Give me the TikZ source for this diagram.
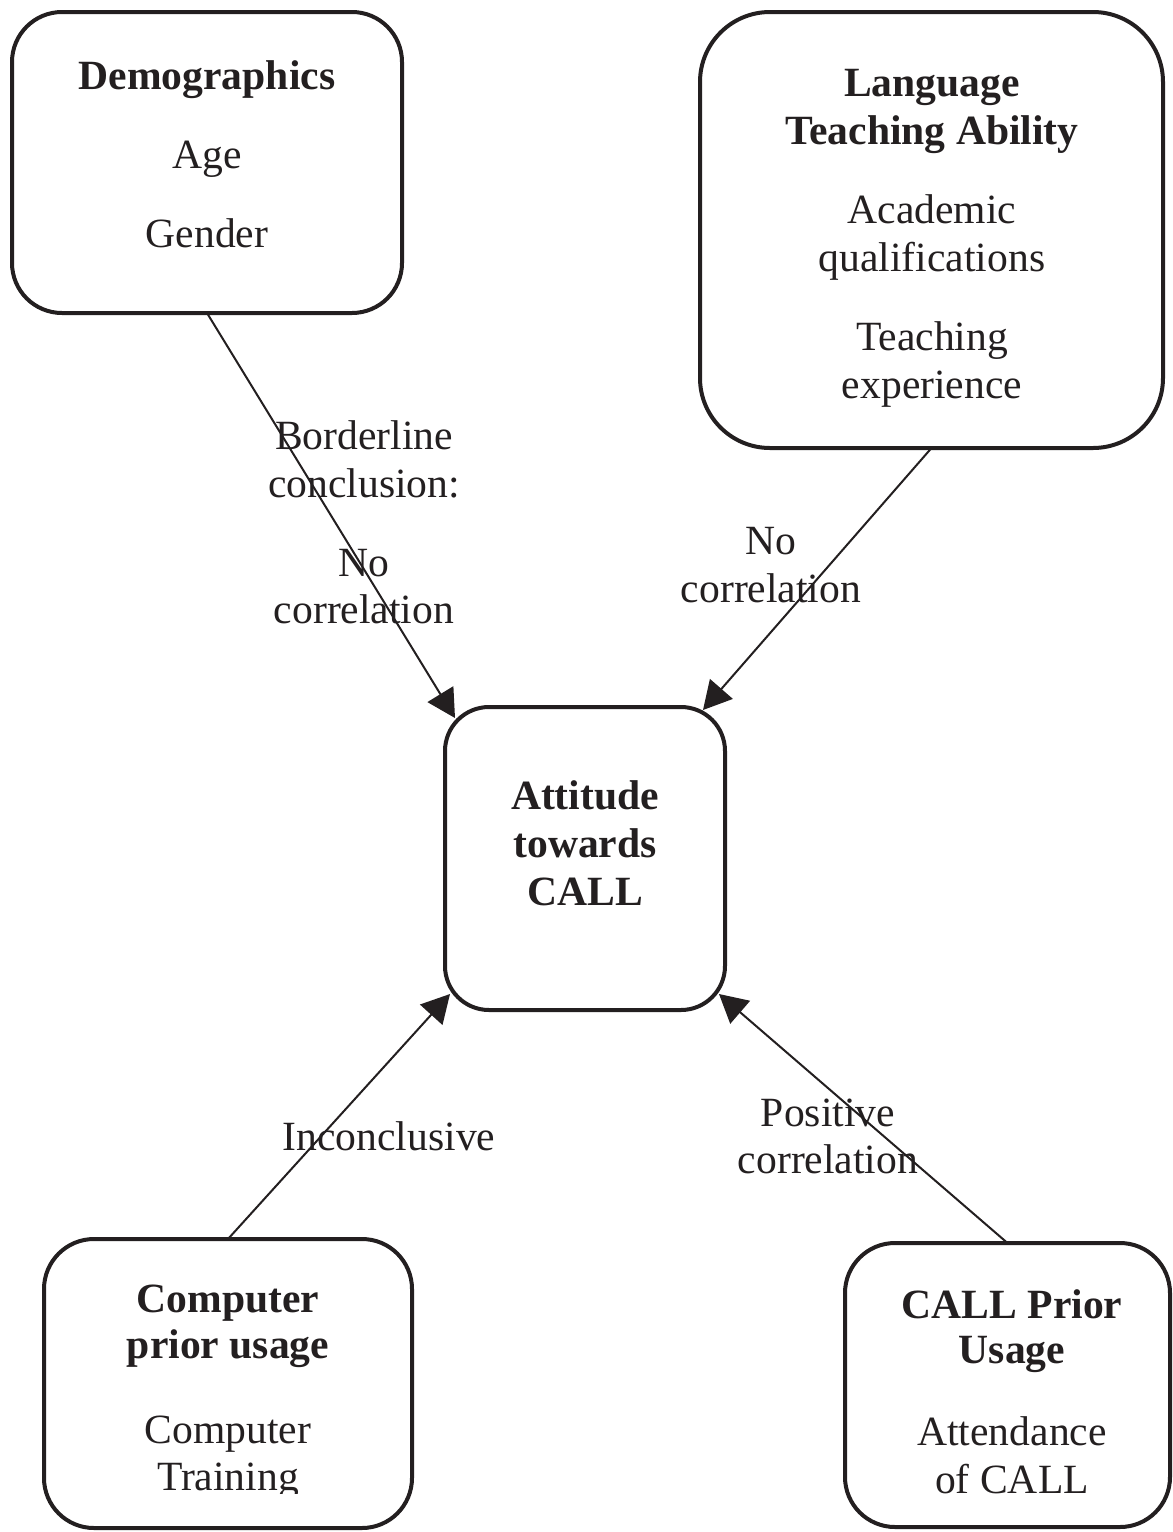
\documentclass[tikz,border=0pt]{standalone}
\usepackage{fontspec}
\setmainfont{Liberation Serif}
\usetikzlibrary{arrows.meta}
\definecolor{ink}{HTML}{231F20}
\begin{document}
\begin{tikzpicture}[x=0.5pt,y=-0.5pt,
  box/.style={draw=ink,line width=2pt,outer sep=0pt,inner sep=0pt},
  txt/.style={anchor=base,inner sep=0pt,text=ink,font=\fontsize{20.8pt}{24pt}\selectfont},
  btxt/.style={txt,font=\fontsize{20.8pt}{24pt}\selectfont\bfseries},
  arr/.style={draw=ink,line width=1pt,-{Triangle[length=14pt,width=15pt]}}]
\useasboundingbox (0,0) rectangle (1173,1532);
% boxes
\node[box,rounded corners=25pt,minimum width=195pt,minimum height=150.5pt] (demo) at (207,162.5) {};
\node[box,rounded corners=35pt,minimum width=231.5pt,minimum height=218pt] (lang) at (931.5,230) {};
\node[box,rounded corners=22pt,minimum width=140pt,minimum height=151.5pt] (att) at (585,858.5) {};
\node[box,rounded corners=25pt,minimum width=184pt,minimum height=144.5pt] (comp) at (228,1383.5) {};
\node[box,rounded corners=25pt,minimum width=162.5pt,minimum height=142pt] (call) at (1007.5,1385) {};
% box texts
\node[btxt] (d1) at (207,89) {Demographics};
\node[txt] (d2) at (207,168) {Age};
\node[txt] (d3) at (207,247) {Gender};
\node[btxt] (l1) at (932,96) {Language};
\node[btxt] (l2) at (932,144) {Teaching Ability};
\node[txt] (l3) at (932,223) {Academic};
\node[txt] (l4) at (932,271) {qualifications};
\node[txt] (l5) at (932,350) {Teaching};
\node[txt] (l6) at (932,398) {experience};
\node[btxt] (a1) at (585,809) {Attitude};
\node[btxt] (a2) at (585,857) {towards};
\node[btxt] (a3) at (585,905) {CALL};
\node[btxt] (c1) at (228,1312) {Computer};
\node[btxt] (c2) at (228,1358) {prior usage};
\node[txt] (c3) at (228,1443) {Computer};
\begin{scope}
\clip (0,1300) rectangle (1173,1493);
\node[txt] (c4) at (228,1490) {Training};
\end{scope}
\node[btxt] (p1) at (1012,1318) {CALL Prior};
\node[btxt] (p2) at (1012,1363) {Usage};
\node[txt] (p3) at (1012,1445) {Attendance};
\node[txt] (p4) at (1012,1493) {of CALL};
% connectors
\draw[arr] (demo.south) -- ([shift={(10,11)}]att.north west);
\draw[arr] (lang.south) -- ([shift={(-22,3)}]att.north east);
\draw[arr] (comp.north) -- ([shift={(5,-16)}]att.south west);
\draw[arr] (call.north) -- ([shift={(-6,-16)}]att.south east);
% connector labels
\node[txt] (e1) at (364,449) {Borderline};
\node[txt] (e2) at (364,497) {conclusion:};
\node[txt] (e3) at (364,576) {No};
\node[txt] (e4) at (364,623) {correlation};
\node[txt] (f1) at (771,554) {No};
\node[txt] (f2) at (771,602) {correlation};
\node[txt] (g1) at (389,1150) {Inconclusive};
\node[txt] (h1) at (828,1126) {Positive};
\node[txt] (h2) at (828,1173) {correlation};
\end{tikzpicture}
\end{document}
